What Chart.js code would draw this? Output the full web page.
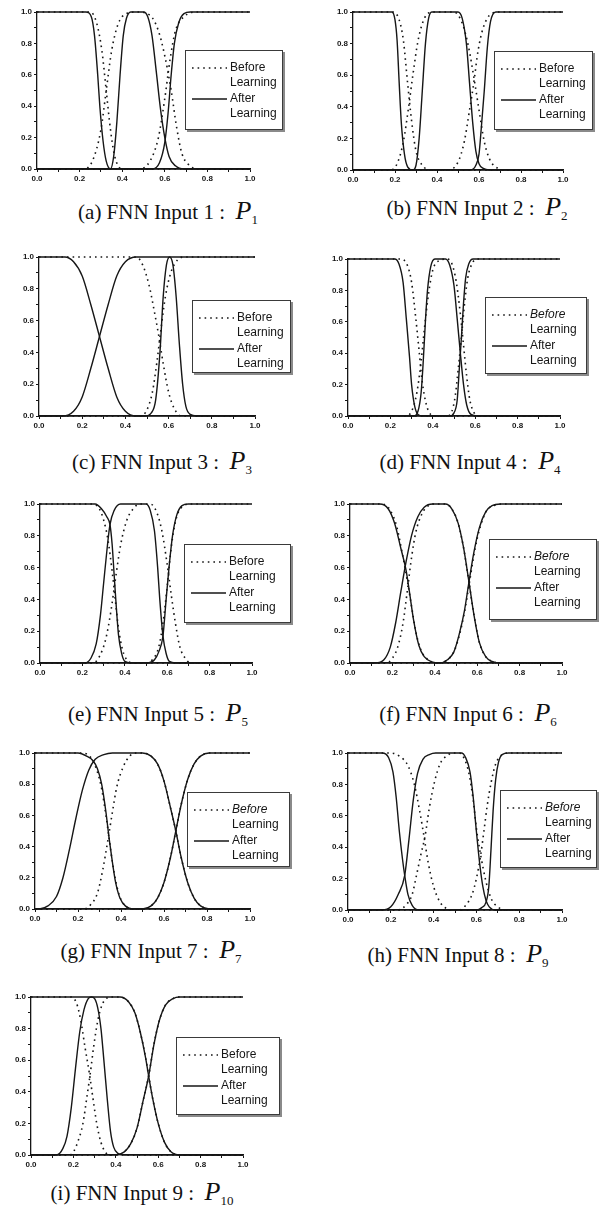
<!DOCTYPE html>
<html>
<head>
<meta charset="utf-8">
<script src="https://cdn.jsdelivr.net/npm/chart.js@4.4.1/dist/chart.umd.min.js"></script>
<style>
  body { margin:0; background:#fff; width:607px; height:1212px; position:relative; overflow:hidden; }
  canvas { position:absolute; }
  .cap { position:absolute; font-family:"Liberation Serif","Times New Roman",serif; font-size:21px; color:#111;
         white-space:nowrap; transform:translate(-50%,-50%); line-height:1; }
  .cap i { font-size:26px; color:#111; }
  .cap sub { font-size:13px; vertical-align:-5px; color:#111; }
</style>
</head>
<body>
<script>
// membership curves, [x, membership] pairs
var tickLabels = ['0.0', '0.2', '0.4', '0.6', '0.8', '1.0'];
var seriesNames = ['Before', 'After'];

var a_before = [
  [[0,1],[0.25,1],[0.28,0.93],[0.305,0.75],[0.325,0.5],[0.345,0.25],[0.365,0.08],[0.4,0],[1,0]],
  [[0,0],[0.22,0],[0.26,0.05],[0.3,0.25],[0.325,0.5],[0.35,0.75],[0.38,0.92],[0.42,0.99],[0.47,1],[0.53,0.98],[0.57,0.88],[0.6,0.72],[0.63,0.5],[0.655,0.27],[0.68,0.1],[0.71,0.03],[0.75,0],[1,0]],
  [[0,0],[0.48,0],[0.53,0.05],[0.57,0.2],[0.6,0.45],[0.625,0.7],[0.65,0.88],[0.69,0.97],[0.75,1],[1,1]]
];
var a_after = [
  [[0,1],[0.23,1],[0.255,0.97],[0.27,0.85],[0.285,0.6],[0.295,0.4],[0.31,0.18],[0.325,0.05],[0.345,0],[1,0]],
  [[0,0],[0.345,0],[0.36,0.08],[0.375,0.3],[0.39,0.6],[0.405,0.85],[0.42,0.96],[0.44,1],[0.5,1],[0.52,0.97],[0.54,0.85],[0.56,0.62],[0.58,0.38],[0.6,0.2],[0.62,0.08],[0.65,0.02],[0.69,0],[1,0]],
  [[0,0],[0.54,0],[0.575,0.04],[0.6,0.17],[0.615,0.35],[0.63,0.6],[0.645,0.8],[0.665,0.93],[0.69,0.99],[0.72,1],[1,1]]
];

var b_before = [
  [[0,1],[0.19,1],[0.22,0.95],[0.24,0.82],[0.26,0.55],[0.28,0.3],[0.3,0.12],[0.33,0.03],[0.37,0],[1,0]],
  [[0,0],[0.18,0],[0.21,0.04],[0.24,0.18],[0.265,0.4],[0.285,0.6],[0.31,0.82],[0.34,0.96],[0.38,1],[0.48,1],[0.52,0.93],[0.55,0.78],[0.58,0.55],[0.6,0.38],[0.625,0.18],[0.65,0.07],[0.69,0.01],[0.73,0],[1,0]],
  [[0,0],[0.45,0],[0.5,0.05],[0.53,0.18],[0.555,0.38],[0.575,0.55],[0.595,0.75],[0.62,0.9],[0.66,0.99],[0.7,1],[1,1]]
];
var b_after = [
  [[0,1],[0.185,1],[0.2,0.95],[0.21,0.82],[0.22,0.55],[0.23,0.3],[0.245,0.1],[0.26,0.02],[0.285,0],[1,0]],
  [[0,0],[0.285,0],[0.3,0.03],[0.315,0.2],[0.33,0.5],[0.345,0.8],[0.36,0.96],[0.375,1],[0.5,1],[0.52,0.96],[0.54,0.8],[0.555,0.55],[0.57,0.3],[0.585,0.12],[0.6,0.04],[0.62,0.01],[0.65,0],[1,0]],
  [[0,0],[0.56,0],[0.585,0.03],[0.6,0.1],[0.61,0.25],[0.625,0.5],[0.64,0.78],[0.655,0.94],[0.68,1],[1,1]]
];

var c_before = [
  [[0,1],[0.45,1],[0.48,0.95],[0.51,0.82],[0.535,0.65],[0.555,0.5],[0.575,0.33],[0.6,0.15],[0.625,0.05],[0.66,0],[1,0]],
  [[0,0],[0.47,0],[0.5,0.04],[0.525,0.15],[0.545,0.33],[0.565,0.55],[0.585,0.75],[0.61,0.9],[0.64,0.98],[0.67,1],[1,1]]
];
var c_after = [
  [[0,1],[0.12,1],[0.16,0.97],[0.2,0.88],[0.24,0.7],[0.28,0.5],[0.32,0.3],[0.36,0.12],[0.4,0.03],[0.45,0],[1,0]],
  [[0,0],[0.49,0],[0.52,0.02],[0.54,0.1],[0.56,0.4],[0.575,0.75],[0.59,0.95],[0.605,1],[0.62,0.95],[0.635,0.75],[0.65,0.45],[0.665,0.2],[0.68,0.06],[0.7,0.01],[0.73,0],[1,0]],
  [[0,0],[0.11,0],[0.16,0.03],[0.2,0.12],[0.24,0.3],[0.28,0.5],[0.32,0.7],[0.36,0.88],[0.4,0.97],[0.45,1],[1,1]]
];

var d_before = [
  [[0,1],[0.25,1],[0.28,0.96],[0.3,0.85],[0.32,0.62],[0.335,0.42],[0.35,0.22],[0.37,0.07],[0.39,0.01],[0.41,0],[1,0]],
  [[0,0],[0.27,0],[0.3,0.03],[0.325,0.15],[0.345,0.35],[0.36,0.55],[0.38,0.78],[0.4,0.93],[0.43,0.99],[0.47,1],[0.49,0.97],[0.51,0.86],[0.53,0.65],[0.545,0.45],[0.56,0.25],[0.575,0.1],[0.595,0.02],[0.62,0],[1,0]],
  [[0,0],[0.47,0],[0.49,0.03],[0.505,0.12],[0.52,0.3],[0.535,0.5],[0.55,0.72],[0.565,0.88],[0.585,0.97],[0.61,1],[1,1]]
];
var d_after = [
  [[0,1],[0.22,1],[0.24,0.97],[0.26,0.85],[0.275,0.62],[0.29,0.38],[0.3,0.2],[0.315,0.06],[0.33,0.01],[0.35,0],[1,0]],
  [[0,0],[0.31,0],[0.33,0.03],[0.345,0.15],[0.355,0.35],[0.365,0.6],[0.375,0.8],[0.39,0.95],[0.41,1],[0.46,1],[0.48,0.96],[0.5,0.83],[0.515,0.62],[0.53,0.4],[0.545,0.2],[0.56,0.07],[0.58,0.01],[0.61,0],[1,0]],
  [[0,0],[0.48,0],[0.5,0.02],[0.515,0.1],[0.525,0.3],[0.535,0.5],[0.545,0.72],[0.555,0.88],[0.57,0.97],[0.59,1],[1,1]]
];

var e_before = [
  [[0,1],[0.25,1],[0.28,0.97],[0.3,0.9],[0.32,0.78],[0.34,0.58],[0.355,0.4],[0.37,0.22],[0.39,0.08],[0.41,0.02],[0.44,0],[1,0]],
  [[0,0],[0.25,0],[0.28,0.04],[0.31,0.15],[0.335,0.33],[0.355,0.52],[0.38,0.74],[0.41,0.9],[0.44,0.97],[0.47,1],[0.52,1],[0.55,0.95],[0.575,0.83],[0.6,0.62],[0.62,0.42],[0.64,0.24],[0.66,0.1],[0.685,0.03],[0.71,0],[1,0]],
  [[0,0],[0.5,0],[0.53,0.02],[0.56,0.1],[0.58,0.25],[0.6,0.48],[0.615,0.68],[0.63,0.83],[0.65,0.94],[0.68,0.99],[0.71,1],[1,1]]
];
var e_after = [
  [[0,1],[0.26,1],[0.29,0.97],[0.315,0.92],[0.33,0.87],[0.34,0.75],[0.35,0.55],[0.36,0.35],[0.37,0.18],[0.385,0.06],[0.4,0.01],[0.43,0],[1,0]],
  [[0,0],[0.21,0],[0.24,0.03],[0.265,0.12],[0.285,0.3],[0.3,0.5],[0.315,0.7],[0.33,0.87],[0.35,0.96],[0.38,1],[0.5,1],[0.52,0.96],[0.54,0.83],[0.555,0.6],[0.565,0.4],[0.58,0.17],[0.595,0.06],[0.61,0.01],[0.64,0],[1,0]],
  [[0,0],[0.51,0],[0.54,0.02],[0.56,0.07],[0.58,0.17],[0.595,0.4],[0.61,0.62],[0.625,0.8],[0.645,0.93],[0.67,0.99],[0.7,1],[1,1]]
];

var f_before = [
  [[0,1],[0.15,1],[0.19,0.96],[0.22,0.86],[0.245,0.7],[0.27,0.52],[0.29,0.36],[0.31,0.2],[0.335,0.08],[0.37,0.02],[0.41,0],[1,0]],
  [[0,0],[0.17,0],[0.2,0.03],[0.225,0.1],[0.25,0.25],[0.27,0.45],[0.29,0.66],[0.31,0.82],[0.34,0.94],[0.37,0.99],[0.4,1],[0.45,1],[0.48,0.97],[0.51,0.88],[0.535,0.73],[0.56,0.52],[0.585,0.3],[0.61,0.13],[0.64,0.04],[0.67,0.01],[0.71,0],[1,0]],
  [[0,0],[0.42,0],[0.46,0.02],[0.49,0.07],[0.515,0.17],[0.54,0.32],[0.565,0.52],[0.59,0.72],[0.615,0.86],[0.645,0.96],[0.68,0.99],[0.72,1],[1,1]]
];
var f_after = [
  [[0,1],[0.14,1],[0.18,0.97],[0.21,0.88],[0.24,0.72],[0.265,0.58],[0.28,0.45],[0.3,0.27],[0.325,0.11],[0.35,0.04],[0.39,0.005],[0.42,0],[1,0]],
  [[0,0],[0.12,0],[0.16,0.02],[0.19,0.1],[0.215,0.25],[0.24,0.45],[0.265,0.64],[0.29,0.8],[0.32,0.92],[0.35,0.98],[0.39,1],[0.45,1],[0.48,0.97],[0.51,0.88],[0.535,0.73],[0.56,0.52],[0.585,0.3],[0.61,0.13],[0.64,0.04],[0.67,0.01],[0.71,0],[1,0]],
  [[0,0],[0.42,0],[0.46,0.02],[0.49,0.07],[0.515,0.18],[0.54,0.33],[0.56,0.5],[0.585,0.7],[0.61,0.85],[0.64,0.95],[0.67,0.99],[0.71,1],[1,1]]
];

var g_before = [
  [[0,1],[0.22,1],[0.26,0.97],[0.29,0.88],[0.31,0.77],[0.33,0.6],[0.345,0.45],[0.36,0.3],[0.38,0.15],[0.4,0.06],[0.43,0.01],[0.46,0],[1,0]],
  [[0,0],[0.23,0],[0.26,0.03],[0.29,0.1],[0.315,0.25],[0.34,0.45],[0.36,0.62],[0.38,0.78],[0.41,0.91],[0.44,0.98],[0.47,1],[0.5,1],[0.54,0.98],[0.57,0.93],[0.6,0.82],[0.63,0.65],[0.655,0.5],[0.68,0.33],[0.71,0.17],[0.74,0.07],[0.77,0.02],[0.81,0],[1,0]],
  [[0,0],[0.5,0],[0.54,0.02],[0.57,0.07],[0.6,0.17],[0.63,0.33],[0.655,0.5],[0.68,0.67],[0.71,0.83],[0.74,0.93],[0.77,0.98],[0.81,1],[1,1]]
];
var g_after = [
  [[0,1],[0.2,1],[0.24,0.98],[0.27,0.95],[0.29,0.9],[0.31,0.8],[0.33,0.62],[0.345,0.45],[0.36,0.3],[0.375,0.17],[0.395,0.07],[0.42,0.02],[0.46,0],[1,0]],
  [[0,0],[0.02,0],[0.06,0.02],[0.1,0.08],[0.13,0.2],[0.16,0.38],[0.19,0.58],[0.22,0.76],[0.25,0.89],[0.28,0.96],[0.32,0.99],[0.36,1],[0.5,1],[0.54,0.98],[0.57,0.93],[0.6,0.82],[0.63,0.65],[0.655,0.5],[0.68,0.33],[0.71,0.17],[0.74,0.07],[0.77,0.02],[0.81,0],[1,0]],
  [[0,0],[0.5,0],[0.54,0.02],[0.57,0.07],[0.6,0.17],[0.63,0.33],[0.655,0.5],[0.68,0.67],[0.71,0.83],[0.74,0.93],[0.77,0.98],[0.81,1],[1,1]]
];

var h_before = [
  [[0,1],[0.2,1],[0.24,0.98],[0.28,0.92],[0.31,0.8],[0.335,0.63],[0.355,0.47],[0.375,0.3],[0.4,0.15],[0.43,0.05],[0.46,0.01],[0.49,0],[1,0]],
  [[0,0],[0.23,0],[0.27,0.03],[0.3,0.1],[0.32,0.22],[0.34,0.35],[0.36,0.47],[0.38,0.65],[0.405,0.82],[0.43,0.93],[0.46,0.98],[0.49,1],[0.52,1],[0.545,0.96],[0.565,0.87],[0.585,0.7],[0.6,0.52],[0.62,0.35],[0.645,0.18],[0.67,0.07],[0.7,0.02],[0.74,0],[1,0]],
  [[0,0],[0.52,0],[0.55,0.03],[0.58,0.1],[0.6,0.2],[0.62,0.35],[0.635,0.5],[0.65,0.66],[0.67,0.82],[0.69,0.93],[0.72,0.99],[0.75,1],[1,1]]
];
var h_after = [
  [[0,1],[0.16,1],[0.19,0.97],[0.21,0.88],[0.225,0.72],[0.24,0.5],[0.255,0.32],[0.265,0.22],[0.28,0.1],[0.3,0.03],[0.33,0],[1,0]],
  [[0,0],[0.16,0],[0.2,0.02],[0.235,0.1],[0.265,0.22],[0.285,0.45],[0.305,0.7],[0.325,0.87],[0.35,0.96],[0.38,0.99],[0.41,1],[0.53,1],[0.55,0.97],[0.57,0.88],[0.585,0.72],[0.6,0.5],[0.615,0.3],[0.63,0.15],[0.645,0.06],[0.66,0.02],[0.69,0],[1,0]],
  [[0,0],[0.6,0],[0.625,0.015],[0.645,0.05],[0.658,0.15],[0.668,0.38],[0.678,0.63],[0.69,0.83],[0.703,0.94],[0.72,0.99],[0.75,1],[1,1]]
];

var i_before = [
  [[0,1],[0.19,1],[0.215,0.96],[0.235,0.85],[0.255,0.68],[0.275,0.52],[0.29,0.38],[0.31,0.2],[0.33,0.08],[0.35,0.02],[0.37,0],[1,0]],
  [[0,0],[0.18,0],[0.2,0.02],[0.22,0.08],[0.245,0.2],[0.265,0.38],[0.28,0.52],[0.295,0.68],[0.315,0.85],[0.335,0.95],[0.355,0.99],[0.37,1],[0.42,1],[0.46,0.97],[0.49,0.9],[0.515,0.78],[0.54,0.62],[0.555,0.5],[0.575,0.35],[0.6,0.2],[0.63,0.08],[0.66,0.02],[0.7,0],[1,0]],
  [[0,0],[0.4,0],[0.44,0.02],[0.47,0.07],[0.5,0.17],[0.53,0.35],[0.555,0.5],[0.58,0.7],[0.605,0.85],[0.635,0.95],[0.67,0.99],[0.7,1],[1,1]]
];
var i_after = [
  [[0,0],[0.12,0],[0.15,0.04],[0.17,0.12],[0.19,0.3],[0.21,0.55],[0.23,0.78],[0.25,0.92],[0.27,0.99],[0.285,1],[0.3,0.99],[0.315,0.93],[0.33,0.8],[0.345,0.58],[0.36,0.35],[0.375,0.15],[0.39,0.05],[0.41,0.01],[0.44,0],[1,0]],
  [[0,1],[0.42,1],[0.46,0.97],[0.49,0.9],[0.515,0.78],[0.54,0.62],[0.555,0.5],[0.575,0.35],[0.6,0.2],[0.63,0.08],[0.66,0.02],[0.7,0],[1,0]],
  [[0,0],[0.4,0],[0.44,0.02],[0.47,0.07],[0.5,0.17],[0.53,0.35],[0.555,0.5],[0.58,0.7],[0.605,0.85],[0.635,0.95],[0.67,0.99],[0.7,1],[1,1]]
];

// page layout: plot box [left, right, top, bottom], legend box [left, right, top, bottom], caption centre
var panels = [
  {tag:'a', input:'1', sub:'1',  before:a_before, after:a_after, plot:[37,250,12,169],   legend:[185,283,50,130],   cap:[168,212], ital:false},
  {tag:'b', input:'2', sub:'2',  before:b_before, after:b_after, plot:[353,563,12,170],  legend:[494,593,51,130],   cap:[477,208], ital:false},
  {tag:'c', input:'3', sub:'3',  before:c_before, after:c_after, plot:[39,255,257,416],  legend:[192,291,300,373],  cap:[162,462], ital:false},
  {tag:'d', input:'4', sub:'4',  before:d_before, after:d_after, plot:[348,560,259,416], legend:[485,587,297,374],  cap:[470,462], ital:true},
  {tag:'e', input:'5', sub:'5',  before:e_before, after:e_after, plot:[40,252,504,663],  legend:[184,291,544,623],  cap:[158,714], ital:false},
  {tag:'f', input:'6', sub:'6',  before:f_before, after:f_after, plot:[350,562,504,663], legend:[489,597,539,620],  cap:[468,714], ital:true},
  {tag:'g', input:'7', sub:'7',  before:g_before, after:g_after, plot:[35,250,753,909],  legend:[187,290,792,867],  cap:[151,951], ital:true},
  {tag:'h', input:'8', sub:'9',  before:h_before, after:h_after, plot:[348,562,753,910], legend:[500,597,790,868],  cap:[458,955], ital:true},
  {tag:'i', input:'9', sub:'10', before:i_before, after:i_after, plot:[31,243,997,1155], legend:[176,280,1037,1115], cap:[142,1193], ital:false}
];

var INK = '#161616';
var YAXIS_W = 30, XAXIS_H = 18, TOP_PAD = 10;

// two-line legend box drawn on the canvas
var fnnLegend = {
  id: 'fnnLegend',
  afterDraw: function(chart, args, opts) {
    if (!opts.box) return;
    var ctx = chart.ctx;
    var bx = opts.box[0], by = opts.box[1], bw = opts.box[2], bh = opts.box[3];
    ctx.save();
    ctx.fillStyle = '#8a8a8a';
    ctx.fillRect(bx + 2, by + 2, bw, bh);
    ctx.fillStyle = '#fff';
    ctx.fillRect(bx, by, bw, bh);
    ctx.strokeStyle = '#3a3a3a';
    ctx.lineWidth = 1;
    ctx.strokeRect(bx + 0.5, by + 0.5, bw - 1, bh - 1);

    var rows = [
      {ds: chart.data.datasets[0], y: by + 18, name: seriesNames[0], ital: opts.ital},
      {ds: chart.data.datasets[chart.data.datasets.length - 1], y: by + 49, name: seriesNames[1], ital: false}
    ];
    rows.forEach(function(r) {
      ctx.beginPath();
      ctx.setLineDash(r.ds.borderDash || []);
      ctx.strokeStyle = r.ds.borderColor;
      ctx.lineWidth = r.ds.borderWidth;
      ctx.moveTo(bx + 7, r.y);
      ctx.lineTo(bx + 42, r.y);
      ctx.stroke();
      ctx.setLineDash([]);
      ctx.fillStyle = INK;
      ctx.textBaseline = 'middle';
      ctx.textAlign = 'left';
      ctx.font = (r.ital ? 'italic ' : '') + '12px "Liberation Sans", Arial, sans-serif';
      ctx.fillText(r.name, bx + 45, r.y);
      ctx.font = '12px "Liberation Sans", Arial, sans-serif';
      ctx.fillText('Learning', bx + 45, r.y + 15);
    });
    ctx.restore();
  }
};

function tickText(v) {
  var r = Math.round(v * 10);
  return r % 2 === 0 ? tickLabels[r / 2] : '';
}

function axis(isX) {
  return {
    type: 'linear', min: 0, max: 1,
    afterFit: function(s) { if (isX) s.height = XAXIS_H; else s.width = YAXIS_W; },
    ticks: {
      stepSize: 0.1, autoSkip: false, maxRotation: 0, padding: 2,
      color: INK, font: {family: '"Liberation Sans", Arial, sans-serif', size: 8, weight: 'bold'},
      callback: tickText
    },
    grid: {drawOnChartArea: false, drawTicks: true, tickLength: 3, color: INK, lineWidth: 1},
    border: {color: INK, width: 1.3}
  };
}

function toPts(curve) {
  return curve.map(function(p) { return {x: p[0], y: p[1]}; });
}

panels.forEach(function(p) {
  var plotW = p.plot[1] - p.plot[0];
  var plotH = p.plot[3] - p.plot[2];
  var left = p.plot[0] - YAXIS_W;
  var top = p.plot[2] - TOP_PAD;
  var width = Math.max(p.legend[1] + 6, p.plot[1] + 12) - left;
  var height = TOP_PAD + plotH + XAXIS_H;

  var cv = document.createElement('canvas');
  cv.width = width; cv.height = height;
  cv.style.left = left + 'px'; cv.style.top = top + 'px';
  cv.style.width = width + 'px'; cv.style.height = height + 'px';
  document.body.appendChild(cv);

  var datasets = [];
  p.before.forEach(function(c) {
    datasets.push({label: 'Before Learning', data: toPts(c), borderColor: INK, borderWidth: 1.6,
      borderDash: [1.6, 4], pointRadius: 0, cubicInterpolationMode: 'monotone', fill: false, clip: 4});
  });
  p.after.forEach(function(c) {
    datasets.push({label: 'After Learning', data: toPts(c), borderColor: INK, borderWidth: 1.4,
      pointRadius: 0, cubicInterpolationMode: 'monotone', fill: false, clip: 4});
  });

  new Chart(cv, {
    type: 'line',
    data: {datasets: datasets},
    options: {
      responsive: false, animation: false, devicePixelRatio: 1,
      layout: {padding: {left: 0, top: TOP_PAD, bottom: 0, right: width - YAXIS_W - plotW}},
      scales: {x: axis(true), y: axis(false)},
      plugins: {
        legend: {display: false}, tooltip: {enabled: false},
        fnnLegend: {box: [p.legend[0] - left, p.legend[2] - top, p.legend[1] - p.legend[0], p.legend[3] - p.legend[2]], ital: p.ital}
      }
    },
    plugins: [fnnLegend]
  });

  var cap = document.createElement('div');
  cap.className = 'cap';
  cap.style.left = p.cap[0] + 'px';
  cap.style.top = p.cap[1] + 'px';
  cap.innerHTML = '(' + p.tag + ') FNN Input ' + p.input + ' :&nbsp; <i>P</i><sub>' + p.sub + '</sub>';
  document.body.appendChild(cap);
});
</script>
</body>
</html>
